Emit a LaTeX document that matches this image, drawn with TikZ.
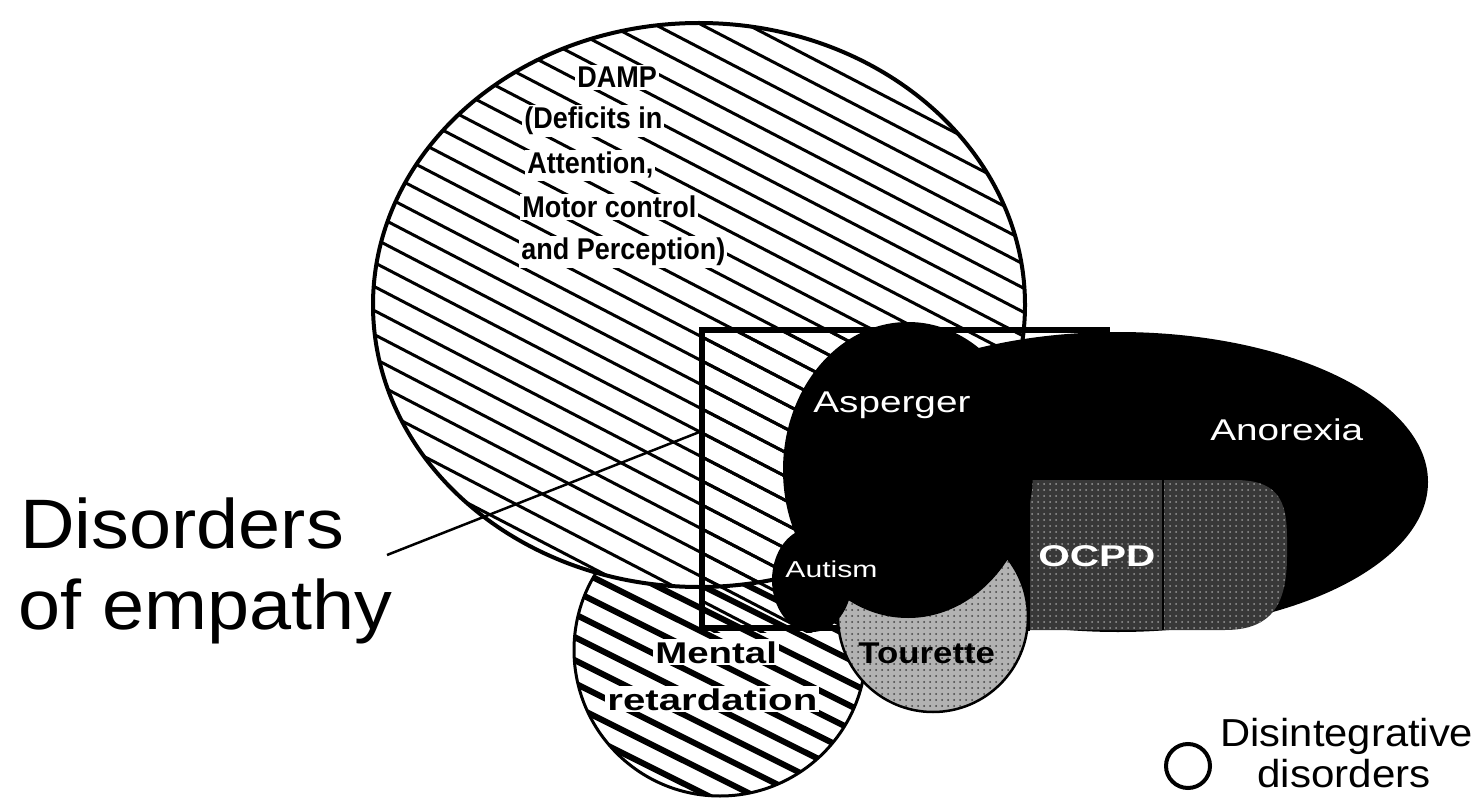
\documentclass[tikz,border=0pt]{standalone}
\usepackage{fontspec}
\setmainfont{Liberation Sans}
\usepackage{graphicx}
\usetikzlibrary{patterns}
\begin{document}
\begin{tikzpicture}[x=0.5pt,y=-0.5pt,
  lbl/.style={inner sep=0pt, anchor=base west},
  boxlbl/.style={inner sep=1pt, anchor=base west, fill=white},
  dampf/.style={font=\fontsize{15pt}{18pt}\selectfont\bfseries},
  midf/.style={font=\fontsize{15pt}{18pt}\selectfont},
  midb/.style={font=\fontsize{15pt}{18pt}\selectfont\bfseries},
  smallf/.style={font=\fontsize{11.5pt}{14pt}\selectfont},
  legf/.style={font=\fontsize{19.5pt}{23pt}\selectfont},
  hugef/.style={font=\fontsize{35pt}{42pt}\selectfont},
  thinhatch/.style={line width=1.5pt},
  thickhatch/.style={line width=3pt}
]
\useasboundingbox (0,0) rectangle (1483,802);
\fill[white] (0,0) rectangle (1483,802);

% Mental retardation circle
\fill[white] (720,650) circle[radius=73pt];
\begin{scope}
  \clip (720,650) circle[radius=73pt];
  \foreach \c in {-800,-777,...,820} \draw[thickhatch] (0,\c) -- (1483,\c+741);
\end{scope}
\draw[line width=1.5pt] (720,650) circle[radius=73pt];

% DAMP ellipse
\fill[white] (699,305) ellipse[x radius=163pt, y radius=141pt];
\begin{scope}
  \clip (699,305) ellipse[x radius=163pt, y radius=141pt];
  \foreach \c in {-820,-796,...,820} \draw[thinhatch] (0,\c) -- (1483,\c+771);
\end{scope}
\begin{scope}
  \clip (702,330) rectangle (900,632);
  \foreach \c in {-820,-796,...,820} \draw[thinhatch] (0,\c) -- (1483,\c+771);
\end{scope}
\draw[line width=2pt] (699,305) ellipse[x radius=163pt, y radius=141pt];

% Disorders of empathy box
\draw[line width=3pt] (1110,330) -- (702,330) -- (702,628) -- (1030,628);

% pointer
\coordinate (ptr0) at (387,555);
\coordinate (ptr1) at (702,431);
\draw[line width=1.25pt] (ptr0) -- (ptr1);

% Anorexia
\fill (1118,482) ellipse[x radius=155pt, y radius=75pt];
% OCPD
\path[fill=black!78, postaction={pattern=dots, pattern color=black!40}]
  (1030,480) -- (1235,480) .. controls (1290,480) and (1287,515) .. (1287,555)
  .. controls (1287,600) and (1275,630) .. (1225,630) -- (1030,630) -- cycle;
\draw[line width=0.75pt] (1163,480) -- (1163,630);
% Tourette
\path[fill=black!30, postaction={pattern=dots, pattern color=black!75}] (933,617) circle[radius=47.5pt];
\draw[line width=1.25pt] (933,617) circle[radius=47.5pt];
% Asperger and Autism
\fill (908,470) ellipse[x radius=62.5pt, y radius=74pt];
\fill (812,580) ellipse[x radius=20pt, y radius=26pt];

% Disintegrative disorders marker
\draw[line width=2pt] (1188,766) circle[radius=11pt];

% labels
\node[boxlbl, dampf] (damp1) at (575,88) {\scalebox{0.9}[1]{DAMP}};
\node[boxlbl, dampf] (damp2) at (522,129) {\scalebox{0.9}[1]{(Deficits in}};
\node[boxlbl, dampf] (damp3) at (525,174) {\scalebox{0.9}[1]{Attention,}};
\node[boxlbl, dampf] (damp4) at (520,218) {\scalebox{0.9}[1]{Motor control}};
\node[boxlbl, dampf] (damp5) at (519,260) {\scalebox{0.9}[1]{and Perception)}};

\node[lbl, midf, text=white] (asp) at (813,412) {\scalebox{1.29}[1]{Asperger}};
\node[lbl, midf, text=white] (ano) at (1210,440) {\scalebox{1.29}[1]{Anorexia}};
\node[lbl, smallf, text=white] (aut) at (785,577) {\scalebox{1.31}[1]{Autism}};
\node[lbl, midb, text=white] (ocpd) at (1038,566) {\scalebox{1.35}[1]{OCPD}};
\node[lbl, midb] (tou) at (858,663) {\scalebox{1.16}[1]{Tourette}};
\node[boxlbl, midb] (men) at (653,663) {\scalebox{1.28}[1]{Mental}};
\node[boxlbl, midb] (ret) at (605,710) {\scalebox{1.34}[1]{retardation}};

\node[lbl, legf] (dis1) at (1220,746) {\scalebox{1.07}[1]{Disintegrative}};
\node[lbl, legf] (dis2) at (1257,787) {\scalebox{1.08}[1]{disorders}};

\node[lbl, hugef] (emp1) at (20,548) {\scalebox{1.08}[1]{Disorders}};
\node[lbl, hugef] (emp2) at (18,629) {\scalebox{1.08}[1]{of empathy}};
\end{tikzpicture}
\end{document}
